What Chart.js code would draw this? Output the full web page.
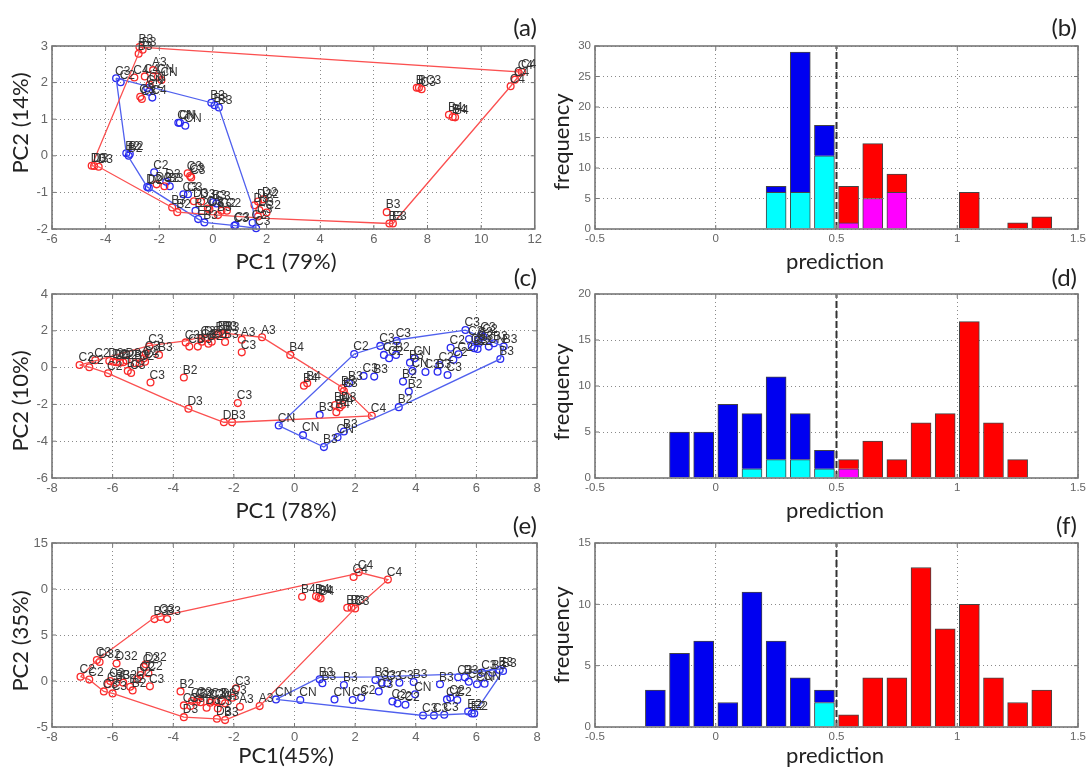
<!DOCTYPE html>
<html><head><meta charset="utf-8">
<style>
html,body{margin:0;padding:0;background:#fff;width:1089px;height:769px;overflow:hidden}
canvas{position:absolute;filter:blur(0.55px)}
</style>
<script src="https://cdn.jsdelivr.net/npm/chart.js@4/dist/chart.umd.js"></script>
</head><body>
<script>
// ---------- Panel (a)
const aRedX=[-2.74,-2.77,-2.62,-2.93,-2.54,-2.36,-2.71,-2.65,-2.23,-2.05,-1.92,-4.52,-4.43,-4.26,-0.94,-0.85,-0.81,-2.1,-1.81,-1.52,-1.33,-0.71,-0.44,-0.19,-0.13,0.19,0.32,0.52,1.55,1.68,1.87,2.0,1.68,1.73,6.48,6.58,6.71,7.6,7.68,7.78,8.8,8.94,9.03,11.1,11.26,11.4,11.52];
const aRedY=[2.97,2.79,2.9,2.14,2.17,1.95,1.61,1.55,2.34,2.16,2.07,-0.27,-0.28,-0.3,-0.48,-0.55,-0.59,-0.78,-0.83,-1.41,-1.54,-1.24,-1.25,-1.44,-1.46,-1.62,-1.5,-1.5,-1.35,-1.25,-1.19,-1.55,-1.66,-1.48,-1.54,-1.85,-1.85,1.86,1.86,1.82,1.12,1.06,1.05,1.9,2.08,2.26,2.29];
const aRedL=['B3','B3','B3','C4','C4','CN','C3','C3','A3','CN','CN','D3','D3','D3','C3','C3','C3','D2','C2','B3','B2','D3','D3','C3','D3','B3','C2','C2','D3','D32','D2','C2','C3','D3','B3','B3','E3','B','BC3','C3','B4','B4','B4','C4','C4','C4','C4'];
const aRedHullX=[-2.74,11.52,11.1,6.71,6.58,2.0,0.19,-1.33,-1.52,-4.26,-4.52,-2.77,-2.74];
const aRedHullY=[2.97,2.29,1.9,-1.85,-1.85,-1.71,-1.62,-1.54,-1.41,-0.3,-0.27,2.79,2.97];
const aBlueX=[-3.61,-3.44,-2.39,-2.26,-2.45,-0.06,0.06,0.22,-1.29,-1.23,-1.03,-3.23,-3.14,-3.1,-2.19,-1.74,-1.61,-2.39,-2.45,-1.1,-0.93,-0.65,-0.55,-0.32,0,0.13,0.8,0.84,1.48,1.61];
const aBlueY=[2.12,2.01,1.75,1.59,1.85,1.45,1.38,1.32,0.9,0.9,0.82,0.07,0,0.05,-0.45,-0.71,-0.83,-0.87,-0.85,-1.05,-1.05,-1.5,-1.73,-1.82,-1.27,-1.3,-1.91,-1.89,-1.83,-1.98];
const aBlueL=['C3','C2','C2','C4','CN','B3','B3','B3','CN','CN','CN','B2','B2','B2','C2','D3','B3','D2','D2','C3','C3','B2','E3','B3','B3','C3','C3','C3','C2','C3'];
const aBlueHullX=[-3.61,-0.06,0.22,1.48,1.61,0.84,-0.32,-0.55,-2.45,-3.23,-3.61];
const aBlueHullY=[2.12,1.45,1.32,-1.4,-1.98,-1.91,-1.82,-1.73,-0.85,0.07,2.12];
// ---------- Panel (c)
const cRedX=[-7.09,-6.77,-6.57,-6.15,-6.11,-5.98,-5.88,-5.76,-5.65,-5.54,-5.5,-5.39,-5.25,-5.1,-4.97,-4.93,-4.91,-4.79,-4.47,-4.75,-3.65,-3.5,-2.33,-2.06,-1.87,-1.74,-1.74,-1.07,-0.14,0.31,0.42,1.57,1.63,1.34,1.38,1.57,1.49,2.55,-3.59,-3.47,-3.19,-3.06,-2.95,-2.84,-2.73,-2.57,-2.35,-2.29,-2.5,-3.07,-2.27];
const cRedY=[0.14,0.02,0.4,-0.31,0.36,0.32,0.29,0.27,0.29,0.38,-0.18,-0.29,0.24,0.23,0.51,0.32,0.76,1.14,0.69,-0.81,-0.54,-2.24,-2.97,-2.97,-1.93,0.83,1.52,1.65,0.69,-0.98,-0.85,-1.12,-1.27,-2.03,-2.42,-2.03,-2.17,-2.62,1.37,1.14,1.14,1.41,1.59,1.3,1.41,1.77,1.83,1.39,1.86,1.59,1.77];
const cRedL=['C2','C2','C2','C2','D3','D2','D3','C2','D2','D3','B3','C3','B3','C2','C2','C3','C3','C3','B3','C3','B2','D3','D','B3','C3','C3','A3','A3','B4','B4','B4','B3','B3','B4','B4','D3','B4','C4','C3','C3','D3','C3','D2','D2','C2','B3','B3','B3','B3','C3','B3'];
const cRedHullX=[-7.09,-4.79,-3.59,-2.5,-1.07,-0.14,1.57,2.55,-2.06,-2.33,-3.5,-6.15,-6.77,-7.09];
const cRedHullY=[0.14,1.2,1.45,1.9,1.65,0.69,-1.07,-2.62,-2.97,-2.97,-2.24,-0.31,0.02,0.14];
const cBlueX=[-0.52,0.28,0.97,1.42,1.63,0.83,1.8,1.97,2.28,2.63,2.83,2.95,3.12,3.35,3.37,3.44,3.58,3.77,3.89,3.81,3.96,4.32,4.72,4.78,5.05,5.15,5.24,5.41,5.64,5.76,5.85,5.93,6.04,6.16,6.07,6.23,6.08,6.41,6.58,6.9,6.79];
const cBlueY=[-3.15,-3.67,-4.32,-3.78,-3.47,-2.57,-0.85,0.74,-0.45,-0.49,1.18,0.69,0.51,0.69,1.45,-2.15,-0.76,-1.3,-0.18,0.27,0.51,-0.24,-0.22,0.14,-0.4,1.08,0.42,0.72,2.04,1.55,1.14,1.05,1.01,1.77,1.5,1.68,1.32,1.14,1.32,1.14,0.47];
const cBlueL=['CN','CN','B3','CN','B3','B3','B3','C2','C3','B3','C3','C2','C2','B2','C3','B2','B2','B2','CN','B3','CN','C3','B3','C2','C3','C2','C2','C2','C3','C3','C2','B3','C2','C3','C3','C2','C3','CN','B3','B3','B3'];
const cBlueHullX=[-0.52,1.97,2.83,3.37,5.64,6.9,6.79,3.44,1.63,0.97,-0.52];
const cBlueHullY=[-3.15,0.74,1.18,1.5,2.04,1.14,0.47,-2.15,-3.47,-4.32,-3.15];
// ---------- Panel (e)
const eRedX=[-7.06,-6.77,-6.52,-6.43,-5.87,-6.29,-6.15,-6.08,-6.0,-5.88,-5.65,-5.42,-5.34,-5.19,-5.08,-4.97,-4.91,-4.82,-4.77,-4.62,-4.43,-4.2,-3.76,-3.65,-3.65,-3.43,-3.38,-3.23,-3.19,-3.1,-2.9,-2.78,-2.73,-2.6,-2.56,-2.53,-2.29,-2.29,-2.39,-2.05,-1.93,-1.8,-1.15,0.25,0.71,0.8,0.86,1.74,1.88,2,1.95,2.12,3.08];
const eRedY=[0.47,0.15,2.29,2.07,1.89,-1.13,-0.36,0,-1.35,-0.18,-0.18,-0.62,-1.02,0.18,0.65,1.53,1.82,0.84,-0.58,6.73,6.95,6.73,-1.13,-2.65,-3.93,-2.73,-2.18,-2.25,-2,-2.3,-2.91,-2.36,-2.18,-2.2,-4.11,-2.98,-4.25,-2.43,-2.18,-1.82,-0.8,-2.8,-2.73,9.16,9.2,9.09,8.98,7.96,7.96,7.89,11.31,11.82,11.02];
const eRedL=['C2','C2','C3','D32','D32','C3','C3','C3','C3','B3','B2','B2','B2','D2','C2','C2','D32','C2','C3','B3','C3','B3','B2','C3','D3','C3','C3','C2','C3','D2','D3','C3','C3','CN','D3','C3','B3','C3','D3','C3','C3','A3','A3','B4','B4','B4','B4','B3','B3','C3','C4','C4','C4'];
const eRedHullX=[-7.06,-6.52,-4.62,1.95,2.12,3.08,2,-1.15,-2.29,-2.56,-3.65,-6.0,-6.29,-6.77,-7.06];
const eRedHullY=[0.47,2.29,6.9,11.6,11.82,11.02,7.89,-2.73,-4.25,-4.11,-3.93,-1.35,-1.13,0.15,0.47];
const eBlueX=[-0.61,0.19,0.83,0.92,1.32,1.63,1.92,2.2,2.67,2.78,2.87,3.06,3.23,3.4,3.46,3.66,3.93,3.98,4.24,4.6,4.8,4.94,5.03,5.14,5.37,5.4,5.62,5.73,5.85,5.93,5.75,6.02,6.27,6.19,6.53,6.76,6.88];
const eBlueY=[-2,-2.07,0.18,-0.25,-2,-0.44,-2.07,-1.82,0.11,-1.13,-0.18,-0.25,-2.22,-2.44,-0.18,-2.58,-0.11,-1.45,-3.75,-3.75,-0.36,-3.67,-2,-1.82,-2.07,0.4,0.4,-3.31,-3.53,-3.53,-0.07,-0.36,-0.29,0.91,0.91,1.2,1.09];
const eBlueL=['CN','CN','B3','B3','CN','B3','C3','C2','B3','C3','C3','C3','C2','C2','C3','C2','B3','CN','C3','C3','B3','C3','C2','C2','C2','C3','B3','E2','E2','E2','C3','CN','CN','C3','B3','E3','B3'];
const eBlueHullX=[-0.61,0.83,2.67,5.4,6.88,6.88,5.93,4.94,4.24,-0.61];
const eBlueHullY=[-2,0.4,0.45,0.75,1.35,1.09,-3.53,-3.67,-3.75,-2];
// ---------- Panel (b)
const bCyanX=[0.25,0.35,0.45], bCyanN=[6,6,12];
const bBlueX=[0.25,0.35,0.45], bBlueN=[1,23,5];
const bMagX=[0.55,0.65,0.75], bMagN=[1,5,6];
const bRedX=[0.55,0.65,0.75,1.05,1.25,1.35], bRedN=[6,9,3,6,1,2];
// ---------- Panel (d)
const dCyanX=[0.15,0.25,0.35,0.45], dCyanN=[1,2,2,1];
const dBlueX=[-0.15,-0.05,0.05,0.15,0.25,0.35,0.45], dBlueN=[5,5,8,6,9,5,2];
const dMagX=[0.55], dMagN=[1];
const dRedX=[0.55,0.65,0.75,0.85,0.95,1.05,1.15,1.25], dRedN=[1,4,2,6,7,17,6,2];
// ---------- Panel (f)
const fCyanX=[0.45], fCyanN=[2];
const fBlueX=[-0.25,-0.15,-0.05,0.05,0.15,0.25,0.35,0.45], fBlueN=[3,6,7,2,11,7,4,1];
const fMagX=[], fMagN=[];
const fRedX=[0.55,0.65,0.75,0.85,0.95,1.05,1.15,1.25,1.35], fRedN=[1,4,4,13,8,10,4,2,3];
// ---------- Axis texts
const histXTicks=['-0.5','0','0.5','1','1.5'];
const aXTicks=['-6','-4','-2','0','2','4','6','8','10','12'];
const aYTicks=['-2','-1','0','1','2','3'];
const cdXTicks=['-8','-6','-4','-2','0','2','4','6','8'];
const cYTicks=['-6','-4','-2','0','2','4'];
const eYTicks=['-5','0','5','0','15'];
const bYTicks=['0','5','10','15','20','25','30'];
const dYTicks=['0','5','10','15','20'];
const fYTicks=['0','5','10','15'];
const threshold=[0.5,0.5];

const RED='#fa2a2a',BLUE='#2a2af0',HRED='#fb5050',HBLUE='#5060ee';
const zip=(xs,ys)=>xs.map((x,i)=>({x,y:ys[i]}));

const framePlugin={id:'frame',afterDatasetsDraw(ch){
  const {ctx,chartArea:a,scales:{x,y}}=ch;
  ctx.save();ctx.strokeStyle='#777';ctx.lineWidth=1.6;
  ctx.strokeRect(a.left,a.top,a.right-a.left,a.bottom-a.top);
  ctx.lineWidth=1;ctx.beginPath();
  x.ticks.forEach(t=>{const p=x.getPixelForValue(t.value);ctx.moveTo(p,a.bottom);ctx.lineTo(p,a.bottom-4);ctx.moveTo(p,a.top);ctx.lineTo(p,a.top+4);});
  y.ticks.forEach(t=>{const p=y.getPixelForValue(t.value);ctx.moveTo(a.left,p);ctx.lineTo(a.left+4,p);ctx.moveTo(a.right,p);ctx.lineTo(a.right-4,p);});
  ctx.stroke();ctx.restore();
}};
const pointLabels={id:'pointLabels',afterDatasetsDraw(ch){
  const ctx=ch.ctx;ctx.save();
  ctx.font='12px "Liberation Sans"';ctx.fillStyle='#333';ctx.textAlign='left';ctx.textBaseline='middle';
  ch.data.datasets.forEach((ds,i)=>{ if(!ds.pointText) return;
    ch.getDatasetMeta(i).data.forEach((el,k)=>ctx.fillText(ds.pointText[k],el.x-1,el.y-7));
  });
  ctx.restore();
}};
const panelText={id:'panelText',afterDraw(ch,_,o){
  const ctx=ch.ctx;ctx.save();ctx.fillStyle='#222';ctx.textBaseline='middle';
  ctx.font='22px Lato';ctx.textAlign='center';
  ctx.fillText(o.xTitle,o.xTitleX,o.xTitleY);
  ctx.save();ctx.translate(o.yTitleX,o.yTitleY);ctx.rotate(-Math.PI/2);ctx.fillText(o.yTitle,0,0);ctx.restore();
  ctx.font='24px Lato';ctx.textAlign='right';ctx.fillText(o.letter,o.letterX,o.letterY);
  ctx.restore();
}};

function make(p,datasets,xOpt,yOpt){
  const c=document.createElement('canvas');
  const h=p.titleY+16-p.top, w=p.width;
  c.width=w;c.height=h;c.style.left=p.left+'px';c.style.top=p.top+'px';
  document.body.appendChild(c);
  const common=(labels)=>({autoSkip:false,maxRotation:0,minRotation:0,color:'#666',font:{family:'"Liberation Sans"',size:p.tick},
      callback:(v,i)=>labels[i]});
  new Chart(c,{type:p.type,data:{datasets},plugins:[framePlugin,pointLabels,panelText],options:{
    responsive:false,animation:false,events:[],
    layout:{autoPadding:false,padding:{left:0,top:p.areaTop-p.top,right:p.left+w-p.areaRight,bottom:0}},
    plugins:{legend:{display:false},tooltip:{enabled:false},
      panelText:{xTitle:p.xTitle,xTitleX:p.xTitleX-p.left,xTitleY:p.titleY-p.top,yTitle:p.yTitle,yTitleX:p.yTitleX-p.left,yTitleY:p.yTitleY-p.top,letter:p.letter,letterX:p.letterX-p.left,letterY:p.letterY-p.top}},
    scales:{
      x:{type:'linear',min:xOpt.min,max:xOpt.max,offset:false,stacked:p.type==='bar',
        ticks:{...common(xOpt.labels),stepSize:xOpt.step,padding:3,align:'center'},
        grid:{offset:false,color:'#8a8a8a',lineWidth:1,tickLength:0,drawTicks:false},
        border:{display:false,dash:[1,3]},
        afterFit:s=>{s.height=h-(p.areaBottom-p.top);}},
      y:{type:'linear',min:yOpt.min,max:yOpt.max,stacked:p.type==='bar',
        ticks:{...common(yOpt.labels),stepSize:yOpt.step,padding:4},
        grid:{color:'#8a8a8a',lineWidth:1,tickLength:0,drawTicks:false},
        border:{display:false,dash:[1,3]},
        afterFit:s=>{s.width=p.areaLeft-p.left;}}
    }}});
}
function scatterSets(rx,ry,rl,rhx,rhy,bx,by,bl,bhx,bhy){
  const hull=(d,col)=>({type:'line',data:d,borderColor:col,borderWidth:1.3,pointRadius:0,showLine:true,fill:false,tension:0,clip:false});
  const pts=(d,col,t)=>({type:'scatter',data:d,borderColor:col,backgroundColor:'rgba(0,0,0,0)',pointRadius:3.4,pointBorderWidth:1.3,showLine:false,pointText:t,clip:false});
  return [hull(zip(rhx,rhy),HRED),hull(zip(bhx,bhy),HBLUE),pts(zip(rx,ry),RED,rl),pts(zip(bx,by),BLUE,bl)];
}
function histSets(cx,cn,bx,bn,mx,mn,rx,rn,ymax){
  const bar=(d,col)=>({type:'bar',data:d,backgroundColor:col,borderColor:'#444',borderWidth:1,barThickness:20,stack:'h'});
  return [
    {type:'line',data:zip(threshold,[0,ymax]),borderColor:'#333',borderWidth:2,borderDash:[7,3],pointRadius:0,stack:'t',order:-1},
    bar(zip(cx,cn),'#00ffff'),bar(zip(bx,bn),'#0000f0'),bar(zip(mx,mn),'#ff00ff'),bar(zip(rx,rn),'#ff0000')];
}
const L={left:0,width:545,areaLeft:52,areaRight:537,yTitleX:21,xTitleX:286,letterX:537,tick:13,type:'scatter'};
const R={left:545,width:544,areaLeft:595,areaRight:1080,yTitleX:562,xTitleX:835,letterX:1077,tick:11.5,type:'bar',xTitle:'prediction',yTitle:'frequency'};
const row1={top:0,areaTop:46,areaBottom:229,titleY:262,letterY:28};
const row2={top:255,areaTop:294,areaBottom:478,titleY:511,letterY:278};
const row3={top:505,areaTop:543,areaBottom:727,titleY:756,letterY:526};

make({...L,...row1,xTitle:'PC1 (79%)',yTitle:'PC2 (14%)',yTitleY:123,letter:'(a)'},
  scatterSets(aRedX,aRedY,aRedL,aRedHullX,aRedHullY,aBlueX,aBlueY,aBlueL,aBlueHullX,aBlueHullY),
  {min:-6,max:12,step:2,labels:aXTicks},{min:-2,max:3,step:1,labels:aYTicks});
make({...R,...row1,yTitleY:142,letter:'(b)'},
  histSets(bCyanX,bCyanN,bBlueX,bBlueN,bMagX,bMagN,bRedX,bRedN,30),
  {min:-0.5,max:1.5,step:0.5,labels:histXTicks},{min:0,max:30,step:5,labels:bYTicks});
make({...L,...row2,xTitle:'PC1 (78%)',yTitle:'PC2 (10%)',yTitleY:401,letter:'(c)'},
  scatterSets(cRedX,cRedY,cRedL,cRedHullX,cRedHullY,cBlueX,cBlueY,cBlueL,cBlueHullX,cBlueHullY),
  {min:-8,max:8,step:2,labels:cdXTicks},{min:-6,max:4,step:2,labels:cYTicks});
make({...R,...row2,yTitleY:392,letter:'(d)'},
  histSets(dCyanX,dCyanN,dBlueX,dBlueN,dMagX,dMagN,dRedX,dRedN,20),
  {min:-0.5,max:1.5,step:0.5,labels:histXTicks},{min:0,max:20,step:5,labels:dYTicks});
make({...L,...row3,xTitle:'PC1(45%)',yTitle:'PC2 (35%)',yTitleY:641,letter:'(e)'},
  scatterSets(eRedX,eRedY,eRedL,eRedHullX,eRedHullY,eBlueX,eBlueY,eBlueL,eBlueHullX,eBlueHullY),
  {min:-8,max:8,step:2,labels:cdXTicks},{min:-5,max:15,step:5,labels:eYTicks});
make({...R,...row3,yTitleY:635,letter:'(f)'},
  histSets(fCyanX,fCyanN,fBlueX,fBlueN,fMagX,fMagN,fRedX,fRedN,15),
  {min:-0.5,max:1.5,step:0.5,labels:histXTicks},{min:0,max:15,step:5,labels:fYTicks});
</script>
</body></html>
